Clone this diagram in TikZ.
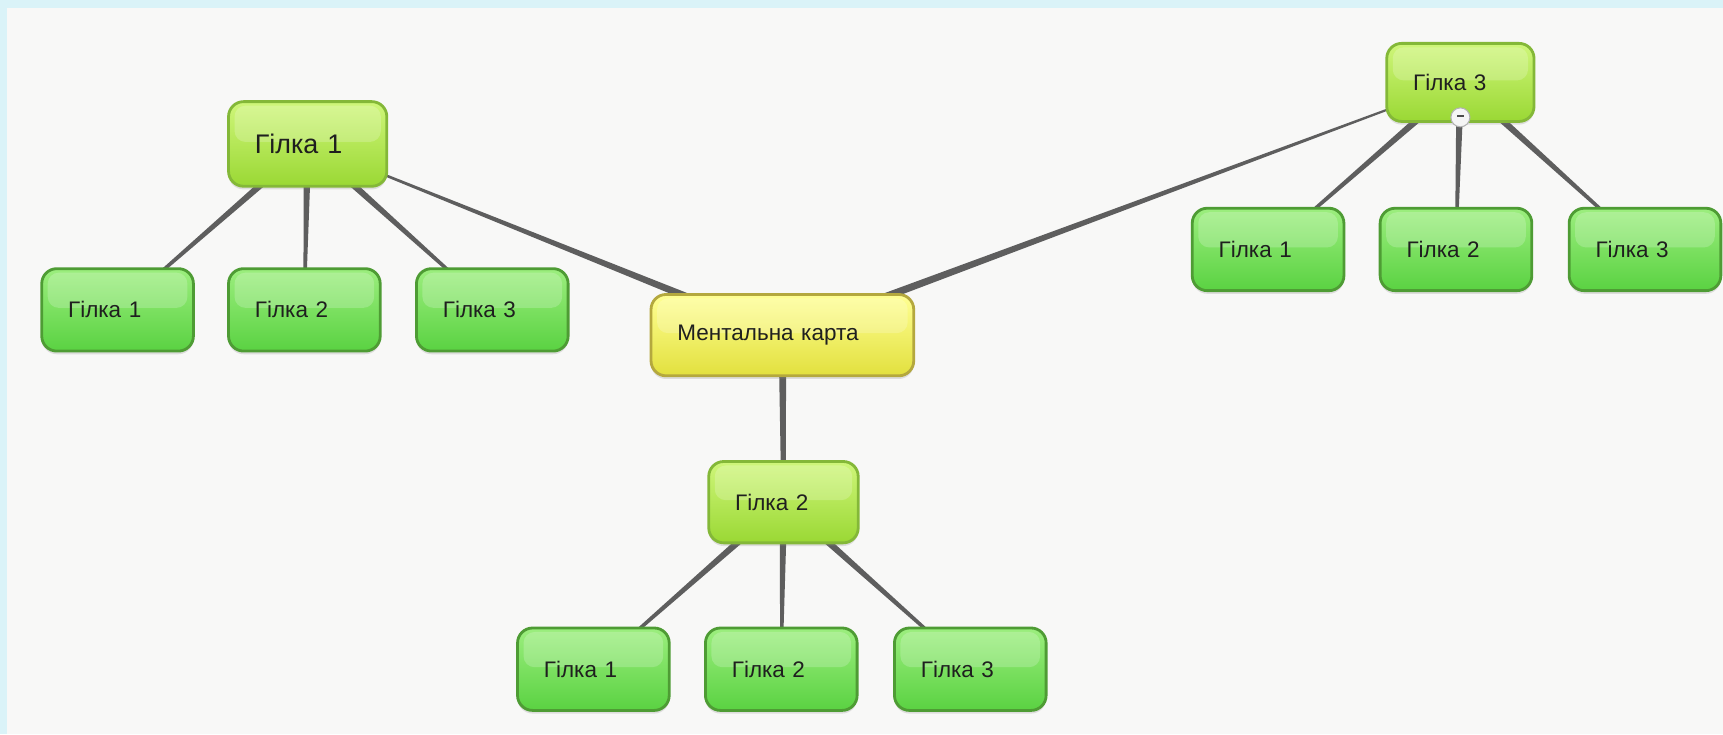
\documentclass[tikz,border=0pt]{standalone}
\usepackage{fontspec}
\setmainfont{Liberation Sans}
\usetikzlibrary{calc,shadows}

\definecolor{paper}{HTML}{F8F8F7}
\definecolor{frame}{HTML}{DAF3F8}
\definecolor{leafTop}{HTML}{9CEE7E}
\definecolor{leafBot}{HTML}{5AD242}
\definecolor{leafLine}{HTML}{4E9C34}
\definecolor{limeTop}{HTML}{CFF67A}
\definecolor{limeBot}{HTML}{9AD834}
\definecolor{limeLine}{HTML}{84B838}
\definecolor{rootTop}{HTML}{FFFF94}
\definecolor{rootBot}{HTML}{E2E03E}
\definecolor{rootLine}{HTML}{B4A83E}
\definecolor{linkGray}{HTML}{5E5E5E}

\pgfdeclarelayer{bg}
\pgfdeclarelayer{links}
\pgfsetlayers{bg,links,main}

\tikzset{
  box/.style={rounded corners=0.3cm, line width=1.6pt, align=left,
    inner xsep=0.5275cm, inner ysep=0pt, text=black!88,
    font=\fontsize{12.8}{15}\selectfont,
    drop shadow={shadow xshift=0pt, shadow yshift=-1.8pt, opacity=0.22},
    path picture={
      \fill[white, opacity=0.2, rounded corners=0.22cm]
        ($(path picture bounding box.north west)+(0.12cm,-0.08cm)$) rectangle
        ($(path picture bounding box.east)+(-0.12cm,0.04cm)$);}},
  leaf/.style={box, draw=leafLine, top color=leafTop, bottom color=leafBot,
    minimum width=3.033cm, minimum height=1.648cm, text width=1.978cm},
  lime/.style={box, draw=limeLine, top color=limeTop, bottom color=limeBot},
  hub/.style={box, draw=rootLine, top color=rootTop, bottom color=rootBot,
    minimum width=5.253cm, minimum height=1.627cm, text width=4.198cm},
  foldbtn/.style={circle, draw=black!30, line width=0.6pt, fill=black!4,
    minimum size=0.38cm, inner sep=0pt},
  link/.style={fill=linkGray}
}

% tapered connector: parent, child, half width at parent, half width at child
\newcommand\limb[4]{%
  \fill[link] ($(#1)!#3!90:(#2)$) -- ($(#2)!#4!-90:(#1)$)
    -- ($(#2)!#4!90:(#1)$) -- ($(#1)!#3!-90:(#2)$) -- cycle;}

\begin{document}
\begin{tikzpicture}[x=0.02198cm, y=-0.02198cm]
\useasboundingbox (0,0) rectangle (1568,668);

\begin{pgfonlayer}{bg}
  \fill[paper] (0,0) rectangle (1568,668);
  \fill[frame] (0,0) rectangle (6.4,668);
  \fill[frame] (0,0) rectangle (1568,7.3);
\end{pgfonlayer}

% centre
\node[hub] (root) at (712,305) {Ментальна карта};

% first level
\node[lime, minimum width=3.165cm, minimum height=1.692cm, text width=2.110cm,
  font=\fontsize{15.3}{18}\selectfont] (b1) at (280,131) {Гілка 1};
\node[lime, minimum width=2.989cm, minimum height=1.627cm, text width=1.934cm]
  (b2) at (713,457) {Гілка 2};
\node[lime, minimum width=2.945cm, minimum height=1.561cm, text width=1.890cm]
  (b3) at (1329,75) {Гілка 3};

% leaves
\node[leaf] (b1a) at (107,282) {Гілка 1};
\node[leaf] (b1b) at (277,282) {Гілка 2};
\node[leaf] (b1c) at (448,282) {Гілка 3};
\node[leaf] (b2a) at (540,609) {Гілка 1};
\node[leaf] (b2b) at (711,609) {Гілка 2};
\node[leaf] (b2c) at (883,609) {Гілка 3};
\node[leaf] (b3a) at (1154,227) {Гілка 1};
\node[leaf] (b3b) at (1325,227) {Гілка 2};
\node[leaf] (b3c) at (1497,227) {Гілка 3};

% collapse button
\node[foldbtn] (fold) at ($(b3.south)+(0,-5)$) {\textcolor{black!70}{\rule[0.3ex]{0.13cm}{0.04cm}}};

\begin{pgfonlayer}{links}
  \limb{root}{b1}{2.4pt}{0.4pt}
  \limb{root}{b2}{2.2pt}{1.2pt}
  \limb{root}{b3}{2.4pt}{0.4pt}
  \foreach \p in {b1,b2,b3}
    \foreach \c in {a,b,c}
      \limb{\p}{\p\c}{2.2pt}{0.6pt};
\end{pgfonlayer}
\end{tikzpicture}
\end{document}
